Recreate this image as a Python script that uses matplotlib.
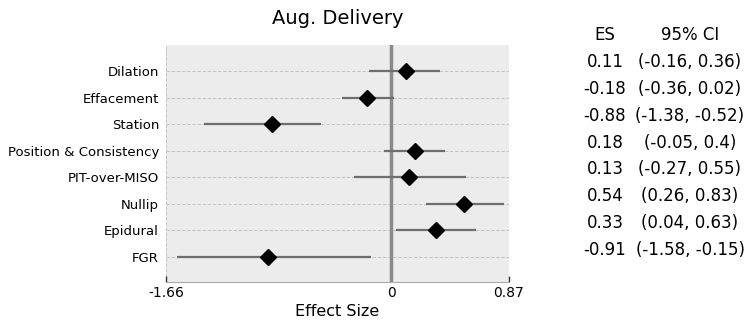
import numpy as np
import matplotlib
matplotlib.use("Agg")
import matplotlib.pyplot as plt

plt.rcParams["font.family"] = ["DejaVu Sans"]

# forest plot data
labels = ["Dilation", "Effacement", "Station", "Position & Consistency",
          "PIT-over-MISO", "Nullip", "Epidural", "FGR"]
es = [0.11, -0.18, -0.88, 0.18, 0.13, 0.54, 0.33, -0.91]
ci_lo = [-0.16, -0.36, -1.38, -0.05, -0.27, 0.26, 0.04, -1.58]
ci_hi = [0.36, 0.02, -0.52, 0.4, 0.55, 0.83, 0.63, -0.15]
x_min, x_max = -1.66, 0.87
x_ticks = [-1.66, 0, 0.87]
x_ticklabels = ["-1.66", "0", "0.87"]

fig = plt.figure(figsize=(7.48, 3.35), dpi=100)
ax = fig.add_axes([166 / 748, 1 - 282 / 335, (509 - 166) / 748, (282 - 45) / 335])
ax.set_facecolor("#ececec")

y = np.arange(len(labels))
ax.axvline(0, color="#8a8a8a", lw=2.5, zorder=1)
ax.hlines(y, ci_lo, ci_hi, color="#6e6e6e", lw=1.6, zorder=2)
ax.plot(es, y, "D", color="black", ms=8.5, zorder=3)

ax.set_xlim(x_min, x_max)
ax.set_ylim(len(labels) - 0.04, -1)
ax.set_yticks(y)
ax.set_yticklabels(labels, fontsize=9.5)
ax.set_xticks(x_ticks)
ax.set_xticklabels(x_ticklabels, fontsize=10)
ax.tick_params(axis="y", length=0, pad=5)
ax.tick_params(axis="x", direction="in", length=4, width=1, color="#333333", pad=3)
ax.grid(True, ls="--", lw=0.7, color="#c4c4c4", zorder=0)
ax.set_axisbelow(True)
for s in ["top", "right", "left"]:
    ax.spines[s].set_visible(False)
ax.spines["bottom"].set_color("#aaaaaa")

ax.set_title("Aug. Delivery", fontsize=14, pad=15)
ax.set_xlabel("Effect Size", fontsize=11.5, labelpad=3)

# table on the right
def fy(px):
    return 1 - px / 335

fig.text(605 / 748, fy(35), "ES", ha="center", va="center", fontsize=12)
fig.text(690 / 748, fy(35), "95% CI", ha="center", va="center", fontsize=12)
for i in range(len(labels)):
    yy = fy(35 + 26.9 * (i + 1))
    fig.text(605 / 748, yy, f"{es[i]:g}", ha="center", va="center", fontsize=12)
    fig.text(690 / 748, yy, f"({ci_lo[i]:g}, {ci_hi[i]:g})", ha="center", va="center", fontsize=12)

fig.savefig("out.png", dpi=100)
